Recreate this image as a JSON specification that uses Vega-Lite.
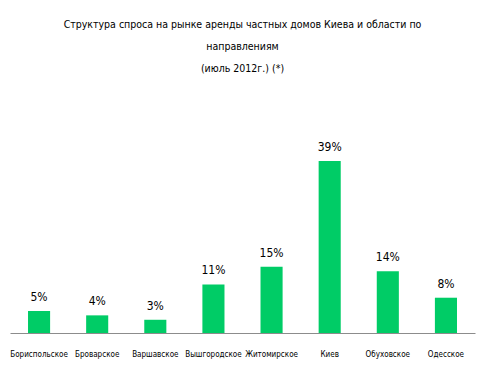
{
  "$schema": "https://vega.github.io/schema/vega-lite/v6.json",
  "width": 465,
  "height": 172,
  "autosize": {"type": "none"},
  "padding": {"left": 10, "top": 161, "right": 5, "bottom": 37},
  "background": "white",
  "title": {
    "text": ["Структура спроса на рынке аренды частных домов Киева и области по", "направлениям", "(июль 2012г.) (*)"],
    "font": "DejaVu Sans Condensed",
    "fontSize": 10.5,
    "fontWeight": "normal",
    "color": "#000000",
    "lineHeight": 22,
    "anchor": "middle",
    "offset": 67
  },
  "data": {
    "values": [
      {"region": "Бориспольское", "pct": 0.05},
      {"region": "Броварское", "pct": 0.04},
      {"region": "Варшавское", "pct": 0.03},
      {"region": "Вышгородское", "pct": 0.11},
      {"region": "Житомирское", "pct": 0.15},
      {"region": "Киев", "pct": 0.39},
      {"region": "Обуховское", "pct": 0.14},
      {"region": "Одесское", "pct": 0.08}
    ]
  },
  "encoding": {
    "x": {
      "field": "region",
      "type": "nominal",
      "sort": null,
      "scale": {"paddingInner": 0.62, "paddingOuter": 0.31},
      "axis": {
        "title": null,
        "labelAngle": 0,
        "labelFont": "DejaVu Sans Condensed",
        "labelFontSize": 8,
        "labelColor": "#000000",
        "labelPadding": 17,
        "ticks": false,
        "domainColor": "#8c8c8c",
        "domainWidth": 1,
        "labelOverlap": false
      }
    },
    "y": {
      "field": "pct",
      "type": "quantitative",
      "scale": {"domain": [0, 0.39], "nice": false, "zero": true},
      "axis": null
    }
  },
  "layer": [
    {"mark": {"type": "bar", "color": "#00cc66", "clip": false}},
    {
      "mark": {"type": "text", "dy": -14, "font": "DejaVu Sans Condensed", "fontSize": 12, "color": "#000000", "clip": false},
      "encoding": {"text": {"field": "pct", "type": "quantitative", "format": ".0%"}}
    }
  ],
  "config": {"view": {"stroke": null}}
}
